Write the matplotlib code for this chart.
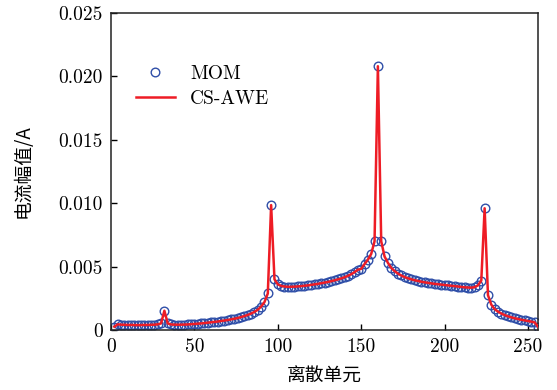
import matplotlib
matplotlib.use("Agg")
import matplotlib.pyplot as plt
import numpy as np

# discrete element index (every second element)
elements = list(range(2, 257, 2))

# current amplitude (A)
mom_values = [
    0.00026, 0.00045, 0.00042, 0.00041, 0.00040, 0.00040, 0.00039, 0.00039,
    0.00039, 0.00040, 0.00040, 0.00041, 0.00042, 0.00045, 0.00052, 0.00152,
    0.00052, 0.00044, 0.00042, 0.00042, 0.00042, 0.00043, 0.00044, 0.00046,
    0.00048, 0.00050, 0.00052, 0.00055, 0.00058, 0.00061, 0.00064, 0.00067,
    0.00071, 0.00075, 0.00079, 0.00084, 0.00089, 0.00095, 0.00102, 0.00110,
    0.00119, 0.00130, 0.00143, 0.00160, 0.00185, 0.00220, 0.00288, 0.00985,
    0.00400, 0.00360, 0.00348, 0.00343, 0.00341, 0.00341, 0.00342, 0.00344,
    0.00346, 0.00349, 0.00352, 0.00356, 0.00360, 0.00364, 0.00369, 0.00374,
    0.00379, 0.00385, 0.00392, 0.00399, 0.00407, 0.00416, 0.00427, 0.00440,
    0.00456, 0.00476, 0.00482, 0.00520, 0.00555, 0.00600, 0.00700, 0.02080,
    0.00700, 0.00580, 0.00530, 0.00490, 0.00465, 0.00445, 0.00430, 0.00418,
    0.00408, 0.00400, 0.00393, 0.00387, 0.00381, 0.00376, 0.00372, 0.00368,
    0.00364, 0.00361, 0.00358, 0.00355, 0.00352, 0.00349, 0.00346, 0.00343,
    0.00340, 0.00337, 0.00335, 0.00334, 0.00338, 0.00352, 0.00390, 0.00960,
    0.00275, 0.00200, 0.00165, 0.00145, 0.00130, 0.00118, 0.00108, 0.00100,
    0.00093, 0.00087, 0.00081, 0.00076, 0.00071, 0.00066, 0.00060, 0.00026,
]
cs_awe_values = list(mom_values)

x_ticks = [0, 50, 100, 150, 200, 250]
y_ticks = [0, 0.005, 0.010, 0.015, 0.020, 0.025]
y_tick_labels = ["0", "0.005", "0.010", "0.015", "0.020", "0.025"]

plt.rcParams['font.family'] = ['cmr10', 'Noto Sans CJK SC', 'DejaVu Sans']
plt.rcParams['axes.formatter.use_mathtext'] = True

fig = plt.figure(figsize=(5.57, 3.90), dpi=100)
ax = fig.add_axes([0.1993, 0.1538, 0.7666, 0.8129])

ax.plot(elements, mom_values, linestyle='none', marker='o', markersize=6.2,
        markerfacecolor='none', markeredgecolor='#2f4fa8', markeredgewidth=1.0,
        label='MOM', zorder=2)
ax.plot(elements, cs_awe_values, color='#ee1c25', linewidth=1.8,
        label='CS-AWE', zorder=3)

ax.set_xlim(0, 256)
ax.set_ylim(0, 0.025)
ax.set_xticks(x_ticks)
ax.set_xticklabels([str(t) for t in x_ticks])
ax.set_yticks(y_ticks)
ax.set_yticklabels(y_tick_labels)
ax.tick_params(direction='in', length=4, width=1, labelsize=14, pad=6,
               top=False, right=False)
for s in ax.spines.values():
    s.set_linewidth(1.1)
    s.set_color('#222222')

ax.set_xlabel('离散单元', fontsize=13.5, family=['Noto Sans CJK SC'], labelpad=7)
ax.set_ylabel('电流幅值/A', fontsize=13.5, family=['Noto Sans CJK SC', 'cmr10'], labelpad=18)

ax.legend(loc='upper left', bbox_to_anchor=(0.04, 0.86), frameon=False,
          fontsize=14, handlelength=2.0, handletextpad=0.8, labelspacing=0.35,
          borderaxespad=0.0)

fig.savefig('out.png', dpi=100)
